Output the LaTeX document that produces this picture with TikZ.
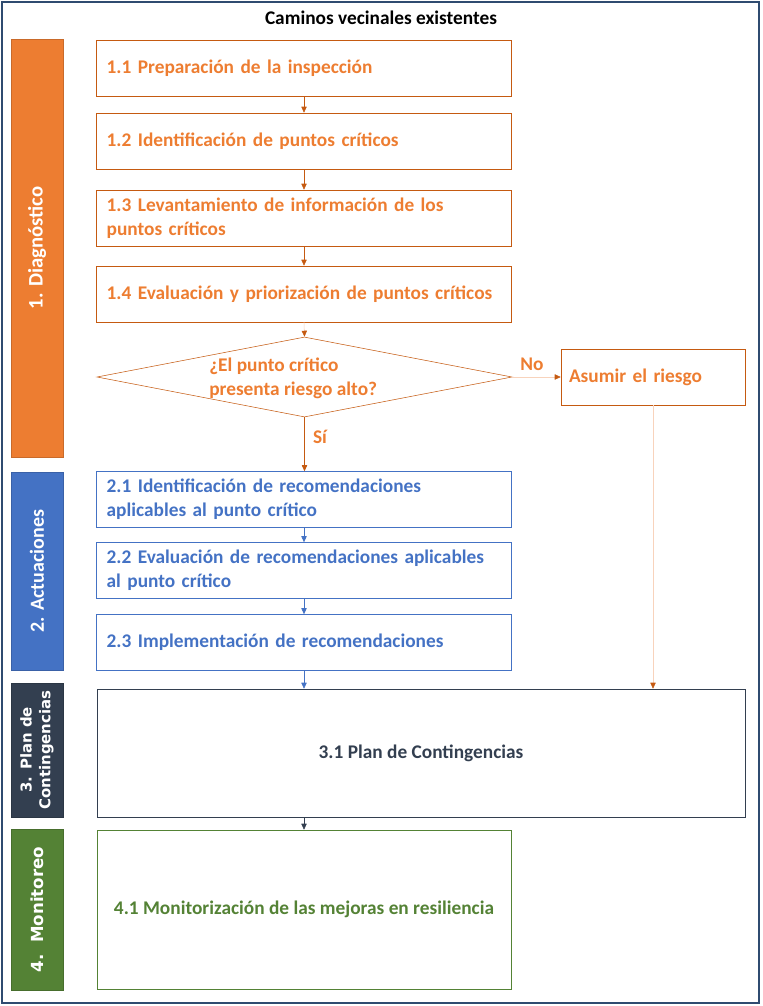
\documentclass[tikz,border=0pt]{standalone}
\usepackage{fontspec}
\setmainfont{Carlito}
\newfontfamily\sidefont{DejaVu Sans}
\usepackage{xcolor}
\usetikzlibrary{positioning,arrows.meta,shapes.geometric,calc}

\definecolor{diagorange}{HTML}{ED7D31}
\definecolor{diagline}{HTML}{C55A11}
\definecolor{diaglight}{HTML}{F8D3BC}
\definecolor{actblue}{HTML}{4472C4}
\definecolor{planslate}{HTML}{333F50}
\definecolor{mongreen}{HTML}{548235}
\definecolor{framecol}{HTML}{2F4B70}

\begin{document}
\begin{tikzpicture}[
    x=0.75pt, y=-0.75pt,
    font=\bfseries\fontsize{14.5}{18}\selectfont,
    >={Triangle[width=4pt,length=4.5pt]},
    stepbox/.style={draw, rectangle, align=left, text width=296pt, inner xsep=7.5pt, minimum height=42pt},
    diagbox/.style={stepbox, draw=diagline, text=diagorange},
    actbox/.style={stepbox, draw=actblue, text=actblue},
    phasebar/.style={rectangle, rotate=90, minimum height=39pt, text=white, align=center, draw=#1!85!black, fill=#1},
    sidetext/.style={font=\sidefont\bfseries\fontsize{#1}{14}\selectfont},
    darrow/.style={->, draw=diagline},
    lightarrow/.style={-{Triangle[width=4pt,length=4.5pt,color=diagline]}, draw=diaglight}
]

% marco y titulo
\useasboundingbox (0,0) rectangle (763,1006);
\draw[framecol, line width=0.9pt] (2,2) rectangle (759,1003);
\node (title) at (381,18) {Caminos vecinales existentes};

% barras de fases
\node[phasebar=diagorange, minimum width=313.5pt, font=\bfseries\fontsize{15.5}{18}\selectfont] (fase1) at (37,248) {1. Diagnóstico};
\node[phasebar=actblue, minimum width=148.5pt, font=\bfseries\fontsize{15}{18}\selectfont] (fase2) at (37,571) {2. Actuaciones};
\node[phasebar=planslate, minimum width=100.5pt, sidetext=11.2] (fase3) at (37,750) {3. Plan de\\Contingencias};
\node[phasebar=mongreen, minimum width=120.75pt, sidetext=12.5] (fase4) at (37,909.5) {4.~~Monitoreo};

% 1. Diagnostico
\node[diagbox] (paso11) at (304,68) {1.1 Preparación de la inspección};
\node[diagbox] (paso12) at (304,141) {1.2 Identificación de puntos críticos};
\node[diagbox] (paso13) at (304,218) {1.3 Levantamiento de información de los\\puntos críticos};
\node[diagbox] (paso14) at (304,294) {1.4 Evaluación y priorización de puntos críticos};

% decision
\node[diamond, draw=diagline, minimum width=311.25pt, minimum height=60pt, inner sep=0pt] (riesgo) at (304.5,377) {};
\node[text=diagorange, align=left, anchor=west, inner sep=0pt] (pregunta) at (209,378) {¿El punto crítico\\presenta riesgo alto?};
\node[draw=diagline, text=diagorange, rectangle, align=left, text width=126pt, inner xsep=6pt, minimum height=42pt] (asumir) at (653,377) {Asumir el riesgo};
\node[text=diagorange] (etiqno) at (532,364) {No};
\node[text=diagorange] (etiqsi) at (320,437) {Sí};

% 2. Actuaciones
\node[actbox] (paso21) at (304,499.5) {2.1 Identificación de recomendaciones\\aplicables al punto crítico};
\node[actbox] (paso22) at (304,570.5) {2.2 Evaluación de recomendaciones aplicables\\al punto crítico};
\node[actbox] (paso23) at (304,642.5) {2.3 Implementación de recomendaciones};

% 3. Plan de contingencias
\node[draw=planslate, text=planslate, rectangle, minimum width=486pt, minimum height=96pt] (paso31) at (421,753) {3.1 Plan de Contingencias};

% 4. Monitoreo
\node[draw=mongreen, text=mongreen, rectangle, minimum width=310.5pt, minimum height=119.25pt] (paso41) at (304,909.5) {4.1 Monitorización de las mejoras en resiliencia};

% flechas
\draw[darrow] (paso11.south) -- (paso12.north);
\draw[darrow] (paso12.south) -- (paso13.north);
\draw[darrow] (paso13.south) -- (paso14.north);
\draw[lightarrow] (paso14.south) -- (riesgo.north);
\draw[lightarrow] (riesgo.east) -- (asumir.west);
\draw[darrow] (riesgo.south) -- (riesgo.south |- paso21.north);
\draw[->, actblue] (paso21.south) -- (paso22.north);
\draw[->, actblue] (paso22.south) -- (paso23.north);
\draw[->, actblue] (paso23.south) -- (paso23.south |- paso31.north);
\draw[lightarrow] (asumir.south) -- (asumir.south |- paso31.north);
\draw[->, planslate] (paso41.north |- paso31.south) -- (paso41.north);

\end{tikzpicture}
\end{document}
